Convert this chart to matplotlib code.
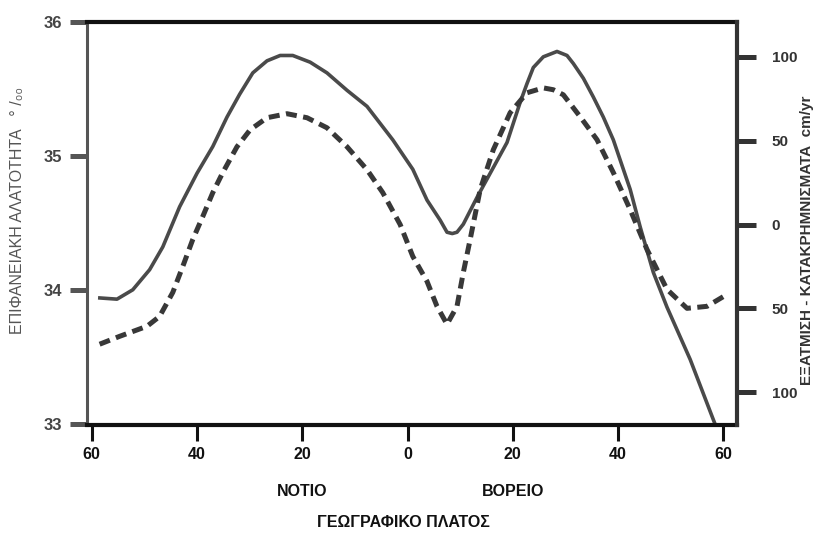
import numpy as np
from matplotlib import pyplot as plt

plt.rcParams['font.family'] = ['Liberation Sans', 'DejaVu Sans']

# Επιφανειακή αλατότητα (συνεχής γραμμή), αριστερός άξονας
platos_alat = [-58.8, -55.2, -52.2, -49.0, -46.5, -43.3, -40.0, -37.0, -34.3, -31.9,
               -29.4, -26.7, -24.2, -21.8, -18.5, -15.3, -11.5, -7.7, -2.8, 1.0,
               3.7, 6.2, 7.5, 8.5, 9.4, 10.6, 13.2, 15.7, 18.9, 21.4,
               22.7, 23.9, 25.8, 28.4, 30.3, 31.5, 33.4, 35.3, 37.2, 39.1,
               42.3, 44.2, 46.7, 49.3, 53.7, 58.1, 59.4]
alatotita = [33.94, 33.93, 34.00, 34.15, 34.32, 34.62, 34.87, 35.07, 35.29, 35.46,
             35.62, 35.71, 35.75, 35.75, 35.70, 35.62, 35.49, 35.37, 35.12, 34.90,
             34.67, 34.52, 34.43, 34.42, 34.43, 34.49, 34.69, 34.87, 35.10, 35.40,
             35.54, 35.66, 35.74, 35.78, 35.75, 35.69, 35.58, 35.44, 35.29, 35.12,
             34.75, 34.47, 34.13, 33.87, 33.48, 33.03, 32.90]

# Εξάτμιση - κατακρημνίσματα (διακεκομμένη), δεξιός άξονας
platos_ep = [-58.5, -54.7, -49.5, -47.1, -44.6, -42.7, -40.8, -38.9, -37.0, -35.1,
             -32.4, -29.9, -26.7, -22.9, -19.1, -15.3, -11.5, -7.7, -4.7, -1.4,
             1.0, 3.7, 5.6, 7.5, 9.4, 10.6, 11.9, 13.8, 16.3, 19.5,
             22.7, 25.8, 27.7, 29.6, 32.8, 36.0, 39.1, 42.3, 45.5, 49.3,
             53.1, 56.9, 60.7]
e_minus_p = [-71.4, -66.7, -60.7, -54.8, -40.5, -25.0, -8.9, 4.8, 19.0, 31.0,
             46.4, 56.5, 63.7, 66.1, 63.7, 57.7, 46.4, 32.7, 19.0, 0.0,
             -19.0, -33.9, -48.8, -59.5, -48.8, -28.6, -8.9, 20.8, 44.6, 66.7,
             78.6, 81.5, 80.4, 77.4, 64.3, 50.6, 31.0, 8.9, -14.9, -38.7,
             -50.0, -48.8, -41.7]

x_ticks = [-60, -40, -20, 0, 20, 40, 60]
x_labels = ['60', '40', '20', '0', '20', '40', '60']
alat_ticks = [33, 34, 35, 36]
ep_ticks = [100, 50, 0, -50, -100]
ep_labels = ['100', '50', '0', '50', '100']

fig = plt.figure(figsize=(8.16, 5.33), dpi=100)
ax = fig.add_axes([0.1066, 0.2026, 0.7966, 0.7561])
ax2 = ax.twinx()

ax.plot(platos_alat, alatotita, color='#4a4a4a', lw=2.6, solid_capstyle='butt',
        solid_joinstyle='round')
ax2.plot(platos_ep, e_minus_p, color='#383838', lw=3.6, dashes=(2.2, 1.3),
         dash_capstyle='butt', dash_joinstyle='round')

ax.set_xlim(-60.9, 62.6)
ax.set_ylim(32.99, 36.0)
ax2.set_ylim(-119.6, 120.8)

# άξονες
ax.spines['left'].set_color('#555555')
ax.spines['left'].set_linewidth(2.2)
ax.spines['top'].set_color('#111111')
ax.spines['top'].set_linewidth(3)
ax.spines['bottom'].set_color('#111111')
ax.spines['bottom'].set_linewidth(3)
ax.spines['right'].set_visible(False)
for s in ['left', 'top', 'bottom']:
    ax2.spines[s].set_visible(False)
ax2.spines['right'].set_color('#333333')
ax2.spines['right'].set_linewidth(3)

ax.set_xticks(x_ticks)
ax.set_xticklabels(x_labels, fontsize=11.5, fontweight='bold', color='#111111')
ax.tick_params(axis='x', direction='out', length=11.5, width=2.2, color='#111111', pad=4)

ax.set_yticks(alat_ticks)
ax.set_yticklabels([str(v) for v in alat_ticks], fontsize=12, fontweight='bold', color='#444444')
ax.tick_params(axis='y', direction='out', length=12, width=3.6, color='#555555', pad=6)

ax2.set_yticks(ep_ticks)
ax2.set_yticklabels(ep_labels, fontsize=11, fontweight='bold', color='#333333')
ax2.tick_params(axis='y', direction='out', length=14, width=3.6, color='#333333', pad=11)

# ετικέτες
fig.text(0.021, 0.606, 'ΕΠΙΦΑΝΕΙΑΚΗ ΑΛΑΤΟΤΗΤΑ   ° /₀₀', rotation=90, ha='center', va='center',
         fontsize=11.5, color='#555555')
fig.text(0.989, 0.55, 'ΕΞΑΤΜΙΣΗ - ΚΑΤΑΚΡΗΜΝΙΣΜΑΤΑ  cm/yr', rotation=90, ha='center', va='center',
         fontsize=11, fontweight='bold', color='#333333')

trans = ax.get_xaxis_transform()
ax.text(-20, -0.165, 'ΝΟΤΙΟ', transform=trans, ha='center', va='center',
        fontsize=11.5, fontweight='bold', color='#111111')
ax.text(20, -0.165, 'ΒΟΡΕΙΟ', transform=trans, ha='center', va='center',
        fontsize=11.5, fontweight='bold', color='#111111')
fig.text(0.494, 0.019, 'ΓΕΩΓΡΑΦΙΚΟ ΠΛΑΤΟΣ', ha='center', va='center',
         fontsize=11.5, fontweight='bold', color='#111111')

fig.savefig('out.png', dpi=100)
